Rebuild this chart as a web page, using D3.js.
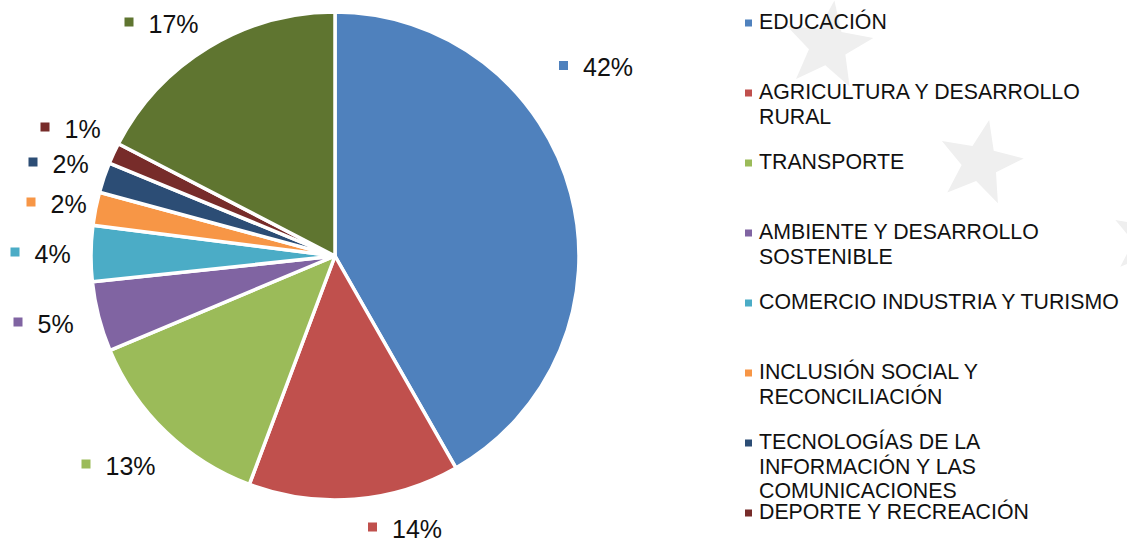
<!DOCTYPE html>
<html>
<head>
<meta charset="utf-8">
<script src="https://cdn.jsdelivr.net/npm/d3@7"></script>
<style>
  html, body { margin: 0; padding: 0; background: #ffffff; }
  svg { display: block; font-family: "Liberation Sans", Arial, sans-serif; }
</style>
</head>
<body>
<svg id="chart" width="1127" height="542"></svg>
<script>
// Investment share by sector
const sectors = [
  "EDUCACIÓN",
  "AGRICULTURA Y DESARROLLO RURAL",
  "TRANSPORTE",
  "AMBIENTE Y DESARROLLO SOSTENIBLE",
  "COMERCIO INDUSTRIA Y TURISMO",
  "INCLUSIÓN SOCIAL Y RECONCILIACIÓN",
  "TECNOLOGÍAS DE LA INFORMACIÓN Y LAS COMUNICACIONES",
  "DEPORTE Y RECREACIÓN",
  "OTROS"
];
const shares = [41.75, 13.96, 12.97, 4.63, 3.70, 2.20, 2.00, 1.40, 17.39];

// Legend lines (wrapped as in the layout), only the first eight are shown
const legendLines = [
  ["EDUCACIÓN"],
  ["AGRICULTURA Y DESARROLLO", "RURAL"],
  ["TRANSPORTE"],
  ["AMBIENTE Y DESARROLLO", "SOSTENIBLE"],
  ["COMERCIO INDUSTRIA Y TURISMO"],
  ["INCLUSIÓN SOCIAL Y", "RECONCILIACIÓN"],
  ["TECNOLOGÍAS DE LA", "INFORMACIÓN Y LAS", "COMUNICACIONES"],
  ["DEPORTE Y RECREACIÓN"]
];

const palette = ["#4F81BD", "#C0504D", "#9BBB59", "#8064A2", "#4BACC6",
                 "#F79646", "#2C4D75", "#772C2A", "#5F7530"];

// Percent-label marker positions, offsets from the pie centre
const labelOffsets = [
  [228.5, -190.5], [37.5, 271], [-249, 208], [-317, 66], [-320, -4],
  [-304, -54], [-302, -94], [-290, -129], [-206, -234]
];

const svg = d3.select("#chart");
const cx = 335, cy = 256, radius = 244;

// faint watermark stars in the background
function starPath(r, inner) {
  const pts = [];
  for (let i = 0; i < 10; i++) {
    const a = -Math.PI / 2 + i * Math.PI / 5;
    const rr = i % 2 === 0 ? r : inner;
    pts.push([rr * Math.cos(a), rr * Math.sin(a)]);
  }
  return d3.line()(pts) + "Z";
}
const stars = [
  {x: 828, y: 46, r: 46, rot: 8},
  {x: 980, y: 163, r: 44, rot: 12},
  {x: 1150, y: 240, r: 40, rot: 12}
];
svg.append("g").selectAll("path").data(stars).join("path")
  .attr("d", d => starPath(d.r, d.r * 0.42))
  .attr("transform", d => `translate(${d.x},${d.y}) rotate(${d.rot})`)
  .attr("fill", "#efefef");

// pie
const pie = d3.pie().sort(null).value(d => d)(shares);
const arc = d3.arc().innerRadius(0).outerRadius(radius);
const total = d3.sum(shares);

const g = svg.append("g").attr("transform", `translate(${cx},${cy})`);
g.selectAll("path").data(pie).join("path")
  .attr("d", arc)
  .attr("fill", (d, i) => palette[i])
  .attr("stroke", "#ffffff")
  .attr("stroke-width", 3.5)
  .attr("stroke-linejoin", "round");

// percentage labels with colour keys
const lab = g.append("g").selectAll("g").data(pie).join("g")
  .attr("transform", (d, i) => `translate(${labelOffsets[i][0]},${labelOffsets[i][1]})`);
lab.append("rect")
  .attr("x", -4.5).attr("y", -4.5).attr("width", 9).attr("height", 9)
  .attr("fill", (d, i) => palette[i]);
lab.append("text")
  .attr("x", 19.5).attr("y", 10.5)
  .attr("font-size", 25)
  .attr("fill", "#111111")
  .text(d => Math.round(d.value / total * 100) + "%");

// legend
const legend = svg.append("g").attr("transform", "translate(748.5,0)");
const rowY = d3.scaleLinear().domain([0, 1]).range([29, 99]);
const item = legend.selectAll("g").data(legendLines).join("g")
  .attr("transform", (d, i) => `translate(0,${rowY(i)})`);
item.append("rect")
  .attr("x", -3.5).attr("y", -9.5).attr("width", 7).attr("height", 7)
  .attr("fill", (d, i) => palette[i]);
item.append("text")
  .attr("x", 10.5)
  .attr("font-size", 21.3)
  .attr("fill", "#111111")
  .selectAll("tspan").data(d => d).join("tspan")
  .attr("x", 10.5)
  .attr("y", (d, j) => j * 24.6)
  .text(d => d);
</script>
</body>
</html>
